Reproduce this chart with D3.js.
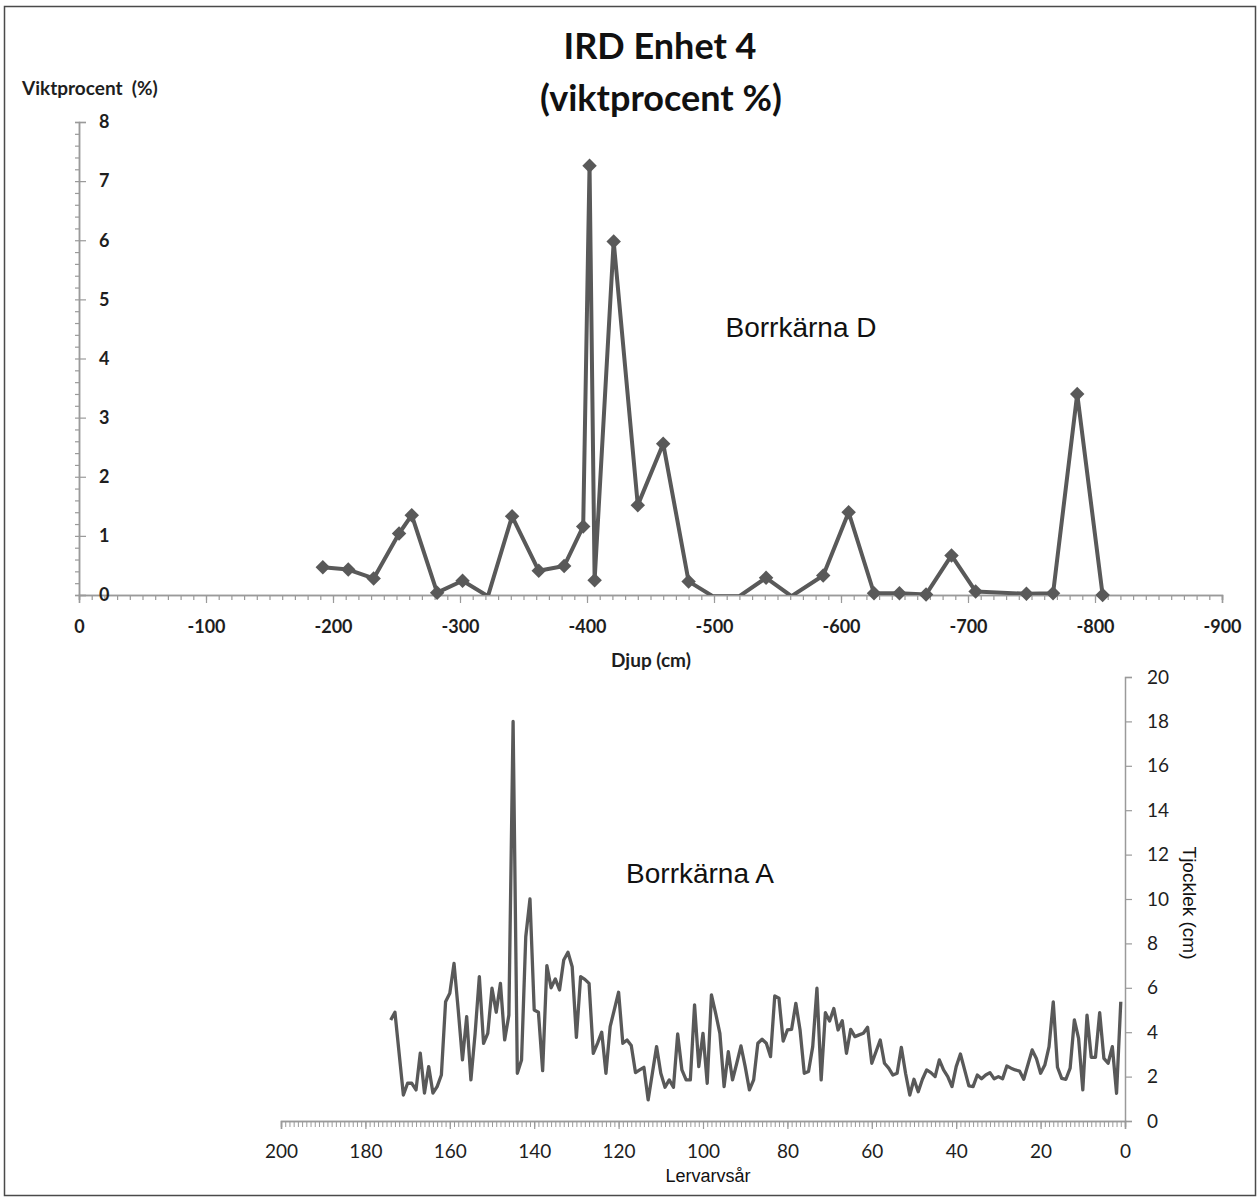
<!DOCTYPE html>
<html><head><meta charset="utf-8">
<script src="https://cdn.jsdelivr.net/npm/d3@7"></script>
<style>body{margin:0;background:#fff} svg{display:block} text{white-space:pre}</style>
</head><body>
<svg id="chart" width="1259" height="1198"></svg>
<script>
// ---- Data: Borrkärna D (depth cm, weight percent) ----
const borrkarnaD = [
  [-192,0.47],[-212,0.43],[-232,0.28],[-252,1.04],[-262,1.35],[-282,0.04],[-302,0.24],
  [-322,-0.02],[-341,1.33],[-362,0.41],[-382,0.49],[-397,1.16],[-402,7.26],[-406,0.25],
  [-421,5.98],[-440,1.52],[-460,2.56],[-480,0.23],[-499,-0.02],[-520,-0.02],[-541,0.29],
  [-561,-0.02],[-586,0.33],[-606,1.40],[-626,0.03],[-646,0.03],[-667,0.01],[-687,0.67],
  [-706,0.06],[-746,0.02],[-767,0.03],[-786,3.40],[-806,0.0]
];
// ---- Data: Borrkärna A (clay varve year, thickness cm) ----
const borrkarnaA = [
  [174,4.55],[173,4.9],[171,1.17],[170,1.7],[169,1.7],[168,1.4],[167,3.06],[166,1.26],[165,2.45],
  [164,1.26],[163,1.55],[162,2.07],[161,5.37],[160,5.75],[159,7.1],[158,5.0],[157,2.75],[156,4.7],
  [155,1.85],[154,3.95],[153,6.5],[152,3.5],[151,3.95],[150,5.98],[149,4.9],[148,6.2],[147,3.65],
  [146,4.77],[145,18.0],[144,2.15],[143,2.75],[142,8.3],[141,10.0],[140,5.0],[139,4.9],[138,2.27],
  [137,7.0],[136,6.0],[135,6.4],[134,5.9],[133,7.25],[132,7.6],[131,6.95],[130,3.77],[129,6.5],
  [128,6.38],[127,6.2],[126,3.05],[125,3.5],[124,4.0],[123,2.15],[122,4.25],[120,5.8],[119,3.5],
  [118,3.65],[117,3.4],[116,2.18],[115,2.3],[114,2.42],[113,0.95],[112,2.15],[111,3.35],[110,2.15],
  [109,1.52],[108,1.85],[107,1.52],[106,3.92],[105,2.3],[104,1.85],[103,1.85],[102,5.23],[101,2.45],
  [100,3.95],[99,1.7],[98,5.68],[97,4.85],[96,3.95],[95,1.55],[94,3.12],[93,1.85],[92,2.6],
  [91,3.38],[90,2.45],[89,1.4],[88,1.85],[87,3.5],[86,3.68],[85,3.5],[84,2.9],[83,5.63],[82,5.53],
  [81,3.6],[80,4.1],[79,4.13],[78,5.3],[77,4.1],[76,2.15],[75,2.23],[74,3.35],[73,5.98],[72,1.85],
  [71,4.88],[70,4.5],[69,5.07],[68,4.1],[67,4.52],[66,3.05],[65,4.13],[64,3.8],[63,3.88],[62,3.95],
  [61,4.22],[60,2.6],[58,3.65],[57,2.6],[56,2.38],[55,2.07],[54,2.15],[53,3.32],[52,2.15],[51,1.17],
  [50,1.88],[49,1.32],[48,1.88],[47,2.3],[46,2.18],[45,2.0],[44,2.75],[43,2.3],[42,2.0],[41,1.55],
  [40,2.45],[39,3.02],[38,2.3],[37,1.58],[36,1.55],[35,2.07],[34,1.9],[33,2.07],[32,2.18],[31,1.9],
  [30,2.0],[29,1.9],[28,2.48],[27,2.38],[26,2.3],[25,2.25],[24,1.88],[22,3.2],[21,2.82],[20,2.15],
  [19,2.52],[18,3.35],[17,5.37],[16,2.42],[15,1.92],[14,1.88],[13,2.38],[12,4.55],[11,3.72],[10,1.4],
  [9,4.77],[8,2.87],[7,2.87],[6,4.88],[5,2.82],[4,2.6],[3,3.35],[2,1.25],[1,5.37]
];
// ---- Tick values ----
const topXMajor = [0,-100,-200,-300,-400,-500,-600,-700,-800,-900];
const topXMinor = d3.range(0,-901,-10);
const topYMajor = [0,1,2,3,4,5,6,7,8];
const topYMinor = d3.range(0,8.001,0.2);
const botXMajor = [200,180,160,140,120,100,80,60,40,20,0];
const botXMinor = d3.range(200,-1,-1);
const botYMajor = [0,2,4,6,8,10,12,14,16,18,20];

const svg = d3.select("#chart");
const LINE = "#595959", AXIS = "#9a9a9a", TXT = "#1e1e1e";
const CAL = "Lato, 'Open Sans', sans-serif", ARI = "'Liberation Sans', Arial, sans-serif";

svg.append("rect").attr("width",1259).attr("height",1198).attr("fill","#fff");
svg.append("rect").attr("x",4.5).attr("y",6.5).attr("width",1251).attr("height",1189)
  .attr("fill","none").attr("stroke","#4a4a4a").attr("stroke-width",1.5);

// Title
svg.append("text").attr("x",660).attr("y",59).attr("text-anchor","middle")
  .style("font",`bold 36px ${CAL}`).attr("fill","#111").text("IRD Enhet 4");
svg.append("text").attr("x",661).attr("y",111).attr("text-anchor","middle")
  .style("font",`bold 36px ${CAL}`).attr("fill","#111").text("(viktprocent %)");

// ---------- Top chart ----------
const xT = d3.scaleLinear().domain([0,-900]).range([79,1222]);
const yT = d3.scaleLinear().domain([0,8]).range([595,122]);

function styleAxis(g){
  g.select(".domain").attr("stroke",AXIS).attr("stroke-width",1.5);
  g.selectAll(".tick line").attr("stroke",AXIS).attr("stroke-width",1.2);
}
svg.append("g").attr("transform","translate(0,595)")
  .call(d3.axisBottom(xT).tickValues(topXMinor).tickSize(5).tickFormat(""))
  .call(styleAxis);
svg.append("g").attr("transform","translate(0,595)")
  .call(d3.axisBottom(xT).tickValues(topXMajor).tickSize(8).tickPadding(17).tickFormat(d=>String(d)))
  .call(styleAxis)
  .call(g=>g.selectAll("text").style("font",`bold 18px ${CAL}`).attr("fill",TXT));
svg.append("g").attr("transform","translate(79,0)")
  .call(d3.axisLeft(yT).tickValues(topYMinor).tickSize(4).tickFormat(""))
  .call(styleAxis);
svg.append("g").attr("transform","translate(79,0)")
  .call(d3.axisRight(yT).tickValues(topYMajor).tickSize(7).tickPadding(13).tickFormat(d=>String(d)))
  .call(styleAxis)
  .call(g=>g.selectAll("text").style("font",`bold 18px ${CAL}`).attr("fill",TXT));

svg.append("text").attr("x",22).attr("y",95)
  .style("font",`bold 19px ${CAL}`).attr("fill",TXT).text("Viktprocent  (%)");
svg.append("text").attr("x",651).attr("y",667).attr("text-anchor","middle")
  .style("font",`bold 19px ${CAL}`).attr("fill",TXT).text("Djup (cm)");
svg.append("text").attr("x",801).attr("y",337).attr("text-anchor","middle")
  .style("font",`28px ${ARI}`).attr("fill","#111").text("Borrkärna D");

svg.append("clipPath").attr("id","clipT").append("rect")
  .attr("x",79).attr("y",110).attr("width",1143).attr("height",485);
svg.append("path").datum(borrkarnaD)
  .attr("clip-path","url(#clipT)")
  .attr("d",d3.line().x(d=>xT(d[0])).y(d=>yT(d[1])))
  .attr("fill","none").attr("stroke",LINE).attr("stroke-width",4).attr("stroke-linejoin","round");
const diamond = d3.symbol().type(d3.symbolSquare).size(105);
svg.append("g").selectAll("path").data(borrkarnaD.filter(d=>d[1]>=0)).join("path")
  .attr("d",diamond)
  .attr("transform",d=>`translate(${xT(d[0])},${yT(d[1])}) rotate(45)`)
  .attr("fill",LINE);

// ---------- Bottom chart ----------
const xB = d3.scaleLinear().domain([200,0]).range([281,1125]);
const yB = d3.scaleLinear().domain([0,20]).range([1121,677]);

svg.append("g").attr("transform","translate(0,1121)")
  .call(d3.axisBottom(xB).tickValues(botXMinor).tickSize(6).tickFormat(""))
  .call(styleAxis).call(g=>g.selectAll(".tick line").attr("stroke-width",1));
svg.append("g").attr("transform","translate(0,1121)")
  .call(d3.axisBottom(xB).tickValues(botXMajor).tickSize(8).tickPadding(16).tickFormat(d=>String(d)))
  .call(styleAxis)
  .call(g=>g.selectAll("text").style("font",`19px ${CAL}`).attr("fill",TXT));
svg.append("g").attr("transform","translate(1125,0)")
  .call(d3.axisRight(yB).tickValues(botYMajor).tickSize(7).tickPadding(15).tickFormat(d=>String(d)))
  .call(styleAxis)
  .call(g=>g.selectAll("text").style("font",`19px ${CAL}`).attr("fill",TXT));

svg.append("text").attr("x",708).attr("y",1182).attr("text-anchor","middle")
  .style("font",`18px ${ARI}`).attr("fill","#111").text("Lervarvsår");
svg.append("text").attr("transform","translate(1183,903) rotate(90)").attr("text-anchor","middle")
  .style("font",`19px ${ARI}`).attr("fill","#111").text("Tjocklek (cm)");
svg.append("text").attr("x",700).attr("y",883).attr("text-anchor","middle")
  .style("font",`28px ${ARI}`).attr("fill","#111").text("Borrkärna A");

svg.append("path").datum(borrkarnaA)
  .attr("d",d3.line().x(d=>xB(d[0])).y(d=>yB(d[1])))
  .attr("fill","none").attr("stroke",LINE).attr("stroke-width",3.3).attr("stroke-linejoin","round");
</script>
</body></html>
